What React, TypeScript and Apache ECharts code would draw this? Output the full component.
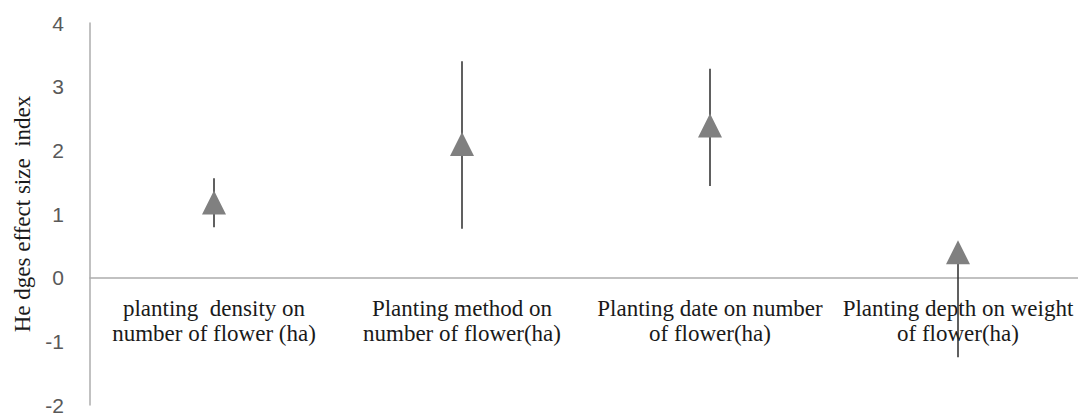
import React, { useEffect, useRef } from "react";
import * as echarts from "echarts";

const categories = [
  "planting  density on\nnumber of flower (ha)",
  "Planting method on\nnumber of flower(ha)",
  "Planting date on number\nof flower(ha)",
  "Planting depth on weight\nof flower(ha)",
];
const effectValues = [1.18, 2.1, 2.39, 0.4];
const lowerValues = [0.79, 0.77, 1.44, -1.25];
const upperValues = [1.56, 3.4, 3.28, 0.45];
const yTicks = { min: -2, max: 4, interval: 1 };
const yAxisName = "He dges effect size  index";

const W = 1078;
const H = 408;
const GRID = { left: 82, right: 4, top: 15, bottom: 11 };

export default function App() {
  const ref = useRef<HTMLDivElement>(null);
  useEffect(() => {
    if (!ref.current) return;
    const chart = echarts.init(ref.current, undefined, { renderer: "svg" });
    const errData = categories.map((_, i) => [i, lowerValues[i], upperValues[i]]);
    const plotH = H - GRID.top - GRID.bottom;
    const zeroFromBottom = (plotH * (0 - yTicks.min)) / (yTicks.max - yTicks.min);
    chart.setOption({
      animation: false,
      backgroundColor: "#ffffff",
      grid: { ...GRID, containLabel: false, outerBoundsMode: "none" },
      xAxis: {
        type: "category",
        data: categories,
        boundaryGap: true,
        position: "bottom",
        offset: -zeroFromBottom,
        axisLine: { show: true, onZero: false, lineStyle: { color: "#adadad", width: 1.5 } },
        axisTick: { show: false },
        axisLabel: {
          interval: 0,
          margin: 18,
          fontFamily: "'Liberation Serif', 'DejaVu Serif', serif",
          fontSize: 23,
          lineHeight: 25,
          color: "#1a1a1a",
        },
        splitLine: { show: false },
      },
      yAxis: {
        type: "value",
        min: yTicks.min,
        max: yTicks.max,
        interval: yTicks.interval,
        name: yAxisName,
        nameLocation: "middle",
        nameGap: 54,
        nameTextStyle: {
          fontFamily: "'Liberation Serif', 'DejaVu Serif', serif",
          fontSize: 23,
          color: "#1a1a1a",
        },
        axisLine: { show: true, lineStyle: { color: "#adadad", width: 1.5 } },
        axisTick: { show: false },
        splitLine: { show: false },
        axisLabel: {
          margin: 26,
          fontFamily: "'Liberation Sans', Arial, sans-serif",
          fontSize: 21,
          color: "#595959",
        },
      },
      series: [
        {
          type: "custom",
          data: errData,
          encode: { x: 0, y: [1, 2] },
          renderItem: (params: any, api: any) => {
            const x = api.value(0);
            const lo = api.coord([x, api.value(1)]);
            const hi = api.coord([x, api.value(2)]);
            return {
              type: "line",
              shape: { x1: lo[0], y1: lo[1], x2: hi[0], y2: hi[1] },
              style: { stroke: "#2b2b2b", lineWidth: 1.5 },
            };
          },
          z: 1,
        },
        {
          type: "scatter",
          data: effectValues,
          symbol: "triangle",
          symbolSize: [24, 24],
          itemStyle: { color: "#808080", opacity: 1 },
          z: 2,
        },
      ],
    });
    return () => chart.dispose();
  }, []);
  return <div ref={ref} style={{ width: W, height: H }} />;
}
